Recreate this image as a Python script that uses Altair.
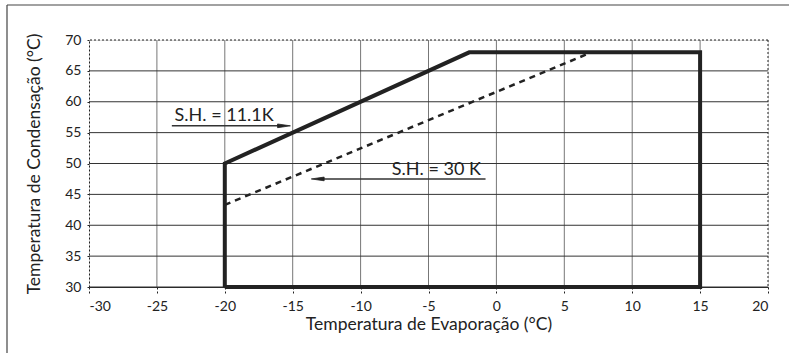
import altair as alt
import pandas as pd

# Operating envelope (evaporating temp, condensing temp)
env_x = [-20, -20, -2, 15, 15, -20]
env_y = [30, 50, 68, 68, 30, 30]

# Limit line for higher superheat
sh30_x = [-20, 7]
sh30_y = [43.3, 68]

# Grid positions
grid_x = [-25, -20, -15, -10, -5, 0, 5, 10, 15]
grid_y = [30, 35, 40, 45, 50, 55, 60, 65]
x_ticks = [-30, -25, -20, -15, -10, -5, 0, 5, 10, 15, 20]
y_ticks = [30, 35, 40, 45, 50, 55, 60, 65, 70]

# Annotation labels with their pointer lines
ann_text = ["S.H. = 11.1K", "S.H. = 30 K"]
ann_text_x = [-23.7, -7.7]
ann_text_y = [56.9, 48.1]
ann_line_x = [-23.9, -13.1]
ann_line_x2 = [-15.7, -0.8]
ann_line_y = [56.1, 47.5]
ann_tip_x = [-15.8, -13.0]
ann_tip_angle = [90, 270]

FONT = "Lato"
INK = "#222222"

X = alt.Scale(domain=[-30, 20], nice=False, zero=False)
Y = alt.Scale(domain=[30, 70], nice=False, zero=False)

x_axis = alt.Axis(values=x_ticks, grid=False, tickSize=6, tickDash=[2, 2],
                  tickColor=INK, domainColor=INK, labelPadding=6,
                  labelFontSize=14, labelColor=INK, labelFont=FONT,
                  labelExpr="'' + datum.value", labelOverlap=False,
                  title="Temperatura de Evaporação (°C)", titleFont=FONT,
                  titleFontSize=17.5, titleFontWeight="normal", titleColor=INK,
                  titlePadding=2)
y_axis = alt.Axis(values=y_ticks, grid=False, tickSize=4, tickDash=[2, 2],
                  tickColor=INK, domainColor=INK, domainDash=[2, 2],
                  labelPadding=4, labelFontSize=14, labelColor=INK,
                  labelFont=FONT, labelOverlap=False, labelFlush=False,
                  title="Temperatura de Condensação (°C)",
                  titleFont=FONT, titleFontSize=17.5, titleFontWeight="normal",
                  titleColor=INK, titlePadding=21)


def xq(field):
    return alt.X(f"{field}:Q", scale=X, axis=x_axis)


def yq(field):
    return alt.Y(f"{field}:Q", scale=Y, axis=y_axis)


env_df = pd.DataFrame({"x": env_x, "y": env_y, "o": range(len(env_x))})
sh_df = pd.DataFrame({"x": sh30_x, "y": sh30_y, "o": range(len(sh30_x))})
gx_df = pd.DataFrame({"x": grid_x})
gy_df = pd.DataFrame({"y": grid_y})
ann_df = pd.DataFrame({
    "t": ann_text, "tx": ann_text_x, "ty": ann_text_y,
    "lx": ann_line_x, "lx2": ann_line_x2, "ly": ann_line_y,
    "px": ann_tip_x, "ang": ann_tip_angle,
})

vgrid = alt.Chart(gx_df).mark_rule(color="#777777", strokeWidth=1).encode(
    x=xq("x"))
hgrid = alt.Chart(gy_df).mark_rule(color="#333333", strokeWidth=1).encode(
    y=yq("y"))

# Dashed top and right borders of the plot area
top_border = alt.Chart(pd.DataFrame({"y": [70]})).mark_rule(
    color=INK, strokeWidth=1, strokeDash=[2, 2]).encode(y=yq("y"))
right_border = alt.Chart(pd.DataFrame({"x": [20]})).mark_rule(
    color=INK, strokeWidth=1, strokeDash=[2, 2]).encode(x=xq("x"))

envelope = alt.Chart(env_df).mark_line(color=INK, strokeWidth=4,
                                       strokeJoin="miter").encode(
    x=xq("x"), y=yq("y"), order="o:O")
sh30 = alt.Chart(sh_df).mark_line(color=INK, strokeWidth=2.5,
                                  strokeDash=[6, 5]).encode(
    x=xq("x"), y=yq("y"), order="o:O")

ann_lines = alt.Chart(ann_df).mark_rule(color="#333333", strokeWidth=1.5).encode(
    x=xq("lx"), x2="lx2:Q", y=yq("ly"))

# Arrowheads at the pointer ends
tips = alt.Chart(ann_df).mark_point(
    shape="wedge", filled=True, color="#222222", stroke="#222222",
    strokeWidth=0.8, opacity=1, size=220).encode(
    x=xq("px"), y=yq("ly"), angle=alt.Angle("ang:Q", scale=None))

ann_labels = alt.Chart(ann_df).mark_text(align="left", baseline="alphabetic",
                                         font=FONT, fontSize=18,
                                         color=INK).encode(
    x=xq("tx"), y=yq("ty"), text="t:N")

# Outer frame of the figure
frame_top = alt.Chart().mark_rule(color="#444444", strokeWidth=1.2).encode(
    x=alt.value(-82), x2=alt.value(700), y=alt.value(-35))
frame_left = alt.Chart().mark_rule(color="#444444", strokeWidth=1.2).encode(
    x=alt.value(-82), y=alt.value(-35), y2=alt.value(313))

chart = alt.layer(
    vgrid, hgrid, top_border, right_border, sh30, envelope,
    ann_lines, tips, ann_labels, frame_top, frame_left,
).properties(
    width=679, height=247,
    padding={"left": 89, "top": 40, "right": 21, "bottom": 66},
    autosize=alt.AutoSizeParams(type="none"),
).configure_view(stroke=None).configure(background="white")

chart.save("out.html", embed_options={"renderer": "svg", "actions": False})
